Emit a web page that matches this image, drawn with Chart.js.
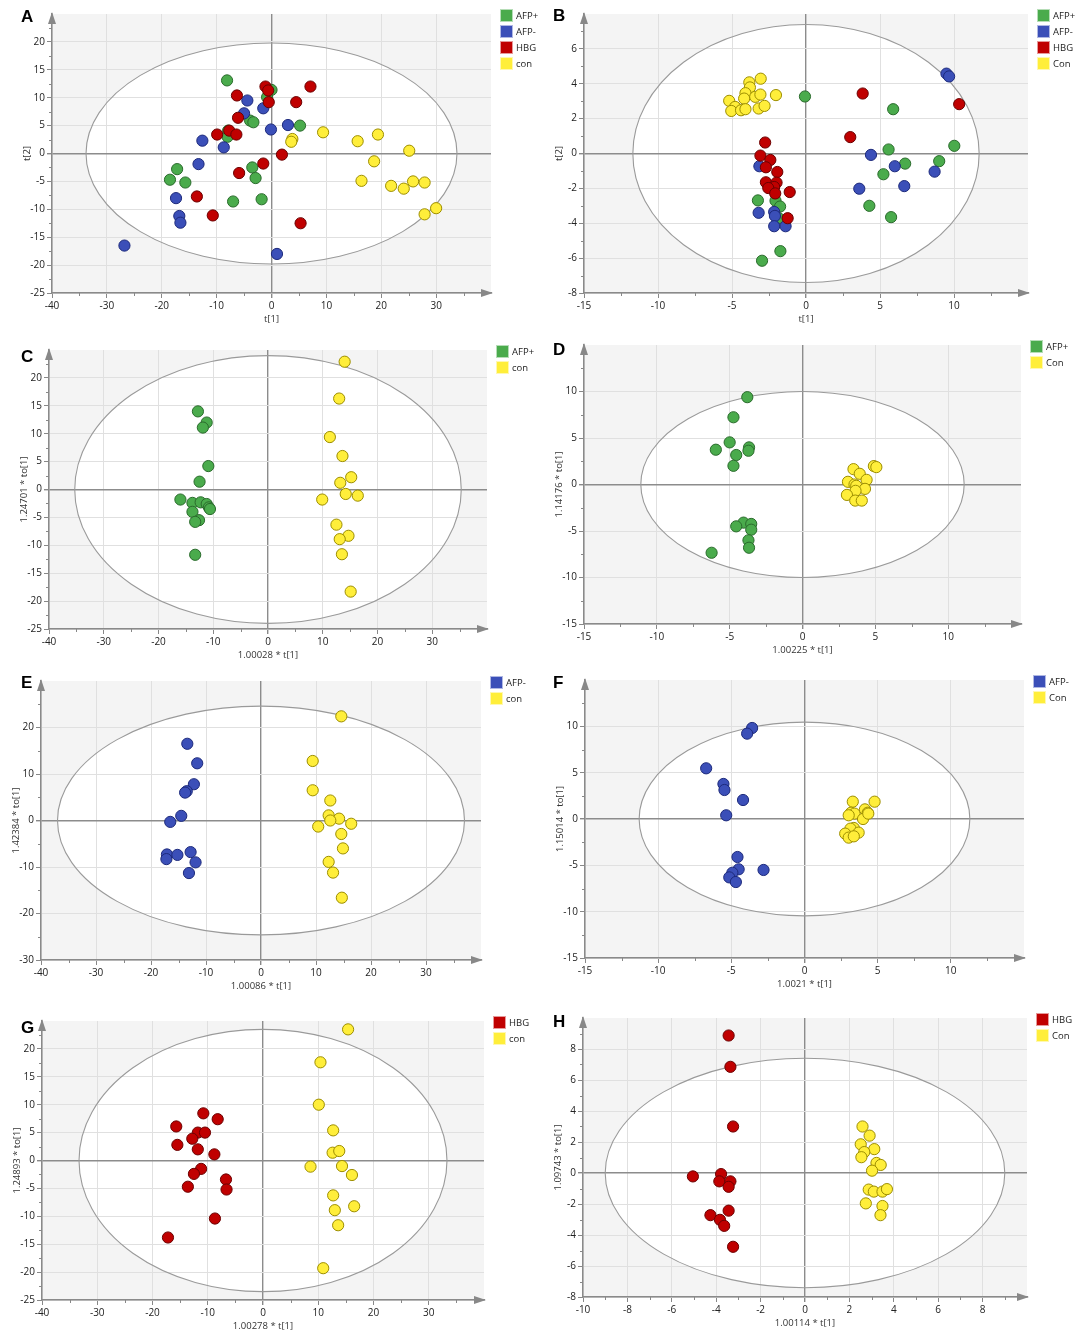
<!DOCTYPE html>
<html>
<head>
<meta charset="utf-8">
<title>OPLS-DA / PCA score plots</title>
<script src="https://cdn.jsdelivr.net/npm/chart.js@4.4.1/dist/chart.umd.min.js"></script>
<style>
  html, body { margin: 0; padding: 0; background: #fff; }
  body { width: 1081px; height: 1339px; position: relative; overflow: hidden; }
  canvas { position: absolute; }
  .tag { position: absolute; font: bold 17px "Liberation Sans", Arial, sans-serif; line-height: 17px; color: #000; }
</style>
</head>
<body>
<script>
// ---- score values, [t1, t2 / to1] per sample ----

// A  PCA, all groups
const aAfpPos = [[-8.1,13.1],[0,11.4],[-0.8,10.1],[-3.9,5.9],[-3.3,5.6],[5.2,5.0],[-7.9,4.1],[-8.0,3.0],[-17.2,-2.8],[-18.5,-4.7],[-15.7,-5.2],[-3.5,-2.5],[-2.9,-4.4],[-7.0,-8.6],[-1.8,-8.2]];
const aAfpNeg = [[-4.4,9.5],[-5.0,7.2],[-1.5,8.1],[-0.1,4.3],[3.0,5.1],[-12.6,2.3],[-8.7,1.1],[-13.3,-1.9],[-17.4,-8.0],[-16.8,-11.2],[-16.6,-12.4],[-26.8,-16.5],[1.0,-18.0]];
const aHbg = [[-6.3,10.4],[-1.1,12.0],[-0.6,11.3],[-0.5,9.2],[7.1,12.0],[4.5,9.2],[-6.1,6.4],[-9.9,3.4],[-7.7,4.1],[-6.4,3.4],[1.9,-0.2],[-1.5,-1.8],[-5.9,-3.5],[-13.6,-7.7],[-10.7,-11.1],[5.3,-12.5]];
const aCon = [[9.4,3.8],[3.8,2.6],[3.6,2.1],[15.7,2.2],[19.4,3.4],[25.1,0.5],[18.7,-1.4],[16.4,-4.9],[21.8,-5.8],[24.1,-6.3],[25.8,-5.0],[27.9,-5.2],[30.0,-9.8],[27.9,-10.9]];

// B  PCA, all groups (second mode)
const bAfpPos = [[-0.07,3.27],[5.89,2.54],[5.58,0.23],[10.02,0.44],[6.7,-0.58],[9.0,-0.44],[5.23,-1.19],[4.28,-3.0],[5.75,-3.65],[-3.25,-2.69],[-2.06,-2.71],[-1.75,-3.04],[-1.85,-3.7],[-1.73,-5.6],[-2.97,-6.15]];
const bAfpNeg = [[9.49,4.58],[9.67,4.42],[4.39,-0.08],[6.0,-0.73],[8.69,-1.04],[6.64,-1.87],[3.6,-2.02],[-3.15,-0.73],[-3.2,-3.4],[-2.15,-3.35],[-2.1,-3.58],[-2.15,-4.17],[-1.38,-4.17]];
const bHbg = [[3.83,3.44],[10.35,2.83],[2.99,0.94],[-2.76,0.63],[-3.08,-0.12],[-2.41,-0.37],[-2.71,-0.79],[-1.94,-1.06],[-2.71,-1.65],[-1.99,-1.67],[-2.15,-1.92],[-2.55,-1.98],[-2.08,-2.29],[-1.1,-2.21],[-1.24,-3.71]];
const bCon = [[-3.06,4.29],[-3.83,4.08],[-3.79,3.79],[-4.09,3.46],[-4.18,3.15],[-3.43,3.25],[-3.08,3.38],[-2.03,3.35],[-5.19,3.02],[-4.79,2.67],[-5.05,2.44],[-4.39,2.48],[-4.09,2.54],[-3.2,2.58],[-2.8,2.73]];

// C / D  AFP+ vs con
const cAfpPos = [[-12.8,14.0],[-11.2,12.0],[-11.9,11.1],[-10.9,4.2],[-12.5,1.4],[-16.0,-1.8],[-13.8,-2.4],[-12.3,-2.3],[-11.2,-2.6],[-10.8,-3.2],[-10.6,-3.5],[-13.8,-4.0],[-12.6,-5.5],[-13.3,-5.8],[-13.3,-11.7]];
const cCon = [[14.0,22.9],[13.0,16.3],[11.3,9.4],[13.6,6.0],[15.2,2.2],[13.2,1.2],[14.2,-0.8],[16.4,-1.1],[9.9,-1.8],[12.5,-6.3],[14.7,-8.3],[13.1,-8.9],[13.5,-11.6],[15.1,-18.3]];
const dAfpPos = [[-3.79,9.39],[-4.74,7.23],[-5.0,4.53],[-5.95,3.74],[-3.67,3.99],[-3.71,3.63],[-4.55,3.17],[-4.74,2.01],[-4.05,-4.1],[-3.52,-4.24],[-4.55,-4.5],[-3.52,-4.86],[-3.71,-6.0],[-3.67,-6.8],[-6.24,-7.34]];
const dCon = [[3.5,1.65],[3.93,1.15],[4.9,1.98],[5.07,1.87],[4.4,0.5],[3.12,0.29],[3.57,0.0],[3.69,-0.14],[4.29,-0.47],[3.64,-0.68],[3.05,-1.12],[3.62,-1.73],[4.07,-1.73]];

// E / F  AFP- vs con
const eAfpNeg = [[-13.4,16.5],[-11.6,12.3],[-12.2,7.8],[-13.5,6.3],[-13.8,6.0],[-14.5,1.0],[-16.5,-0.3],[-17.1,-7.3],[-17.2,-8.3],[-15.2,-7.4],[-12.8,-6.8],[-11.9,-9.0],[-13.1,-11.3]];
const eCon = [[14.6,22.4],[9.4,12.8],[9.4,6.5],[12.6,4.3],[12.3,1.1],[14.2,0.4],[12.6,0.0],[16.4,-0.7],[10.4,-1.3],[14.6,-2.9],[14.9,-6.0],[12.3,-8.9],[13.1,-11.2],[14.7,-16.6]];
const fAfpNeg = [[-3.58,9.82],[-3.92,9.21],[-6.72,5.47],[-5.54,3.78],[-5.47,3.13],[-4.2,2.05],[-5.35,0.4],[-4.58,-4.1],[-4.5,-5.43],[-2.8,-5.5],[-4.93,-5.8],[-5.14,-6.3],[-4.69,-6.8]];
const fCon = [[3.3,1.87],[4.79,1.87],[3.18,0.68],[3.42,0.58],[3.02,0.4],[4.13,1.04],[4.32,0.68],[4.0,0.0],[4.36,0.58],[3.37,-0.97],[3.14,-1.04],[3.7,-1.47],[2.78,-1.58],[3.02,-2.01],[3.37,-1.87]];

// G / H  HBG vs con
const gHbg = [[-10.8,8.45],[-8.2,7.4],[-15.7,6.1],[-11.8,5.0],[-10.5,5.0],[-12.8,3.9],[-15.5,2.8],[-11.8,2.0],[-8.8,1.1],[-11.2,-1.5],[-12.5,-2.4],[-6.7,-3.4],[-6.6,-5.2],[-13.6,-4.7],[-8.7,-10.4],[-17.2,-13.8]];
const gCon = [[15.4,23.5],[10.4,17.6],[10.1,10.0],[12.7,5.4],[12.6,1.4],[13.8,1.7],[8.6,-1.1],[14.3,-1.0],[16.1,-2.6],[12.7,-6.25],[16.5,-8.2],[13.0,-8.9],[13.6,-11.6],[10.9,-19.3]];
const hHbg = [[-3.44,8.87],[-3.36,6.85],[-3.24,3.0],[-5.05,-0.22],[-3.78,-0.07],[-3.86,-0.54],[-3.36,-0.54],[-3.44,-0.89],[-4.26,-2.72],[-3.44,-2.43],[-3.83,-3.02],[-3.64,-3.41],[-3.24,-4.76]];
const hCon = [[2.59,3.0],[2.91,2.41],[2.51,1.85],[3.12,1.54],[2.67,1.35],[2.54,1.02],[3.22,0.65],[3.41,0.52],[3.02,0.15],[2.87,-1.07],[3.1,-1.2],[3.49,-1.2],[3.69,-1.04],[2.74,-1.96],[3.49,-2.13],[3.4,-2.72]];

// group names (legend labels) per panel
const groupsAll = ['AFP+', 'AFP-', 'HBG', 'con'];
const groupsAllB = ['AFP+', 'AFP-', 'HBG', 'Con'];
const groupsPos = ['AFP+', 'con'], groupsPosD = ['AFP+', 'Con'];
const groupsNeg = ['AFP-', 'con'], groupsNegF = ['AFP-', 'Con'];
const groupsHbg = ['HBG', 'con'], groupsHbgH = ['HBG', 'Con'];

// axis titles
const xTitles = ['t[1]', 't[1]', '1.00028 * t[1]', '1.00225 * t[1]', '1.00086 * t[1]', '1.0021 * t[1]', '1.00278 * t[1]', '1.00114 * t[1]'];
const yTitles = ['t[2]', 't[2]', '1.24701 * to[1]', '1.14176 * to[1]', '1.42384 * to[1]', '1.15014 * to[1]', '1.24893 * to[1]', '1.09743 * to[1]'];

// Hotelling T2 ellipse semi-axes (data units)
const ellipses = [[33.8,19.8],[11.7,7.4],[35.3,24.0],[11.1,10.0],[37.0,24.6],[11.3,10.45],[33.3,23.5],[9.0,7.4]];

// ---- layout ----
const FONT = '"Open Sans", "Noto Sans", sans-serif';
const Y_W = 31, X_H = 33, PAD_T = 8, PAD_R = 56;

const colors = {
  'AFP+': ['#4aab4c', '#2a6b2c'],
  'AFP-': ['#3b4fb8', '#1d2a7c'],
  'HBG':  ['#c00000', '#6b0000'],
  'con':  ['#ffee3a', '#9d8e00']
};
const drawOrder = { 'HBG': 1, 'AFP-': 2, 'AFP+': 3, 'con': 4 };

// chart area boxes [left, top, right, bottom] in page px, scale ranges [min, max, step]
const panels = [
  { tag: 'A', tagPos: [21, 8],    box: [52, 14, 491, 293],     x: [-40, 40, 10], y: [-25, 25, 5], groups: groupsAll,  data: [aAfpPos, aAfpNeg, aHbg, aCon] },
  { tag: 'B', tagPos: [553, 7],   box: [584, 14, 1028, 293],   x: [-15, 15, 5],  y: [-8, 8, 2],   groups: groupsAllB, data: [bAfpPos, bAfpNeg, bHbg, bCon] },
  { tag: 'C', tagPos: [21, 348],  box: [49, 350, 487, 629],    x: [-40, 40, 10], y: [-25, 25, 5], groups: groupsPos,  data: [cAfpPos, cCon] },
  { tag: 'D', tagPos: [553, 341], box: [584, 345, 1021, 624],  x: [-15, 15, 5],  y: [-15, 15, 5], groups: groupsPosD, data: [dAfpPos, dCon] },
  { tag: 'E', tagPos: [21, 674],  box: [41, 681, 481, 960],    x: [-40, 40, 10], y: [-30, 30, 10], groups: groupsNeg, data: [eAfpNeg, eCon] },
  { tag: 'F', tagPos: [553, 674], box: [585, 680, 1024, 958],  x: [-15, 15, 5],  y: [-15, 15, 5], groups: groupsNegF, data: [fAfpNeg, fCon] },
  { tag: 'G', tagPos: [21, 1019], box: [42, 1021, 484, 1300],  x: [-40, 40, 10], y: [-25, 25, 5], groups: groupsHbg,  data: [gHbg, gCon] },
  { tag: 'H', tagPos: [553, 1013], box: [583, 1018, 1027, 1297], x: [-10, 10, 2], y: [-8, 10, 2], groups: groupsHbgH, data: [hHbg, hCon] }
];

// background, T2 ellipse, axis arrows, minor ticks and the legend
const decor = {
  id: 'decor',
  beforeDraw(chart, args, opts) {
    const { ctx, chartArea: a, scales: { x, y } } = chart;
    ctx.save();
    ctx.fillStyle = '#f4f4f4';
    ctx.fillRect(a.left, a.top, a.right - a.left, a.bottom - a.top);
    const cx = x.getPixelForValue(0), cy = y.getPixelForValue(0);
    ctx.beginPath();
    ctx.ellipse(cx, cy, Math.abs(x.getPixelForValue(opts.ell[0]) - cx), Math.abs(y.getPixelForValue(opts.ell[1]) - cy), 0, 0, Math.PI * 2);
    ctx.fillStyle = '#ffffff';
    ctx.fill();
    ctx.restore();
  },
  beforeDatasetsDraw(chart, args, opts) {
    const { ctx, scales: { x, y } } = chart;
    const cx = x.getPixelForValue(0), cy = y.getPixelForValue(0);
    ctx.save();
    ctx.beginPath();
    ctx.ellipse(cx, cy, Math.abs(x.getPixelForValue(opts.ell[0]) - cx), Math.abs(y.getPixelForValue(opts.ell[1]) - cy), 0, 0, Math.PI * 2);
    ctx.strokeStyle = '#9a9a9a';
    ctx.lineWidth = 1.1;
    ctx.stroke();
    ctx.restore();
  },
  afterDraw(chart, args, opts) {
    const { ctx, chartArea: a, scales: { x, y } } = chart;
    ctx.save();
    // minor ticks halfway between labelled ticks
    ctx.strokeStyle = '#888';
    ctx.lineWidth = 1;
    ctx.beginPath();
    for (let v = x.min + opts.xs / 2; v < x.max; v += opts.xs) {
      const px = Math.round(x.getPixelForValue(v)) + 0.5;
      ctx.moveTo(px, a.bottom); ctx.lineTo(px, a.bottom + 3);
    }
    for (let v = y.min + opts.ys / 2; v < y.max; v += opts.ys) {
      const py = Math.round(y.getPixelForValue(v)) + 0.5;
      ctx.moveTo(a.left - 3, py); ctx.lineTo(a.left, py);
    }
    ctx.stroke();
    // arrow heads
    ctx.fillStyle = '#888';
    ctx.beginPath();
    ctx.moveTo(a.left, a.top - 2); ctx.lineTo(a.left - 4, a.top + 10); ctx.lineTo(a.left + 4, a.top + 10);
    ctx.closePath(); ctx.fill();
    ctx.beginPath();
    ctx.moveTo(a.right + 2, a.bottom); ctx.lineTo(a.right - 10, a.bottom - 4); ctx.lineTo(a.right - 10, a.bottom + 4);
    ctx.closePath(); ctx.fill();
    // legend
    ctx.font = '9.5px ' + FONT;
    ctx.textBaseline = 'middle';
    chart.data.datasets.forEach((ds, i) => {
      const lx = a.right + 9, ly = a.top - 5 + i * 16;
      ctx.fillStyle = ds.backgroundColor;
      ctx.fillRect(lx, ly, 13, 13);
      ctx.strokeStyle = 'rgba(255,255,255,0.6)';
      ctx.strokeRect(lx + 0.5, ly + 0.5, 12, 12);
      ctx.fillStyle = '#222';
      ctx.fillText(ds.label, lx + 16, ly + 7);
    });
    ctx.restore();
  }
};

function gridColor(c, max) {
  if (c.tick.value === 0) return '#8c8c8c';
  if (c.tick.value === max) return 'rgba(0,0,0,0)';
  return '#e0e0e0';
}

function axis(range, title, fit) {
  return {
    type: 'linear', min: range[0], max: range[1],
    ticks: {
      stepSize: range[2], color: '#222', padding: 2, autoSkip: false, maxRotation: 0,
      font: { family: FONT, size: 10 },
      callback: v => (v === range[1] ? '' : v)
    },
    grid: {
      color: c => gridColor(c, range[1]),
      lineWidth: c => (c.tick.value === 0 ? 1.4 : 1),
      tickColor: c => (c.tick.value === range[1] ? 'rgba(0,0,0,0)' : '#888'),
      tickLength: 5
    },
    border: { display: true, color: '#8a8a8a', width: 1.5 },
    title: { display: true, text: title, color: '#333', font: { family: FONT, size: 9.5 }, padding: { top: 1, bottom: 1 } },
    afterFit: fit
  };
}

panels.forEach((p, k) => {
  const [l, t, r, b] = p.box;
  const cl = l - Y_W, ct = t - PAD_T;
  const cw = r + PAD_R - cl, ch = b + X_H - ct;
  const cv = document.createElement('canvas');
  cv.width = cw; cv.height = ch;
  cv.style.left = cl + 'px'; cv.style.top = ct + 'px';
  cv.style.width = cw + 'px'; cv.style.height = ch + 'px';
  document.body.appendChild(cv);

  const datasets = p.groups.map((g, i) => {
    const key = g.toLowerCase() === 'con' ? 'con' : g;
    const c = colors[key];
    return {
      label: g,
      data: p.data[i].map(([x, y]) => ({ x, y })),
      backgroundColor: c[0],
      borderColor: c[1],
      pointRadius: 5.6,
      pointHoverRadius: 5.6,
      pointBorderWidth: 1,
      order: drawOrder[key]
    };
  });

  new Chart(cv, {
    type: 'scatter',
    data: { datasets },
    plugins: [decor],
    options: {
      responsive: false,
      animation: false,
      events: [],
      layout: { padding: { left: 0, top: PAD_T, right: PAD_R, bottom: 0 } },
      scales: {
        x: axis(p.x, xTitles[k], s => { s.height = X_H; }),
        y: axis(p.y, yTitles[k], s => { s.width = Y_W; })
      },
      plugins: {
        legend: { display: false },
        tooltip: { enabled: false },
        decor: { ell: ellipses[k], xs: p.x[2], ys: p.y[2] }
      }
    }
  });

  const tag = document.createElement('div');
  tag.className = 'tag';
  tag.textContent = p.tag;
  tag.style.left = p.tagPos[0] + 'px';
  tag.style.top = p.tagPos[1] + 'px';
  document.body.appendChild(tag);
});
</script>
</body>
</html>
